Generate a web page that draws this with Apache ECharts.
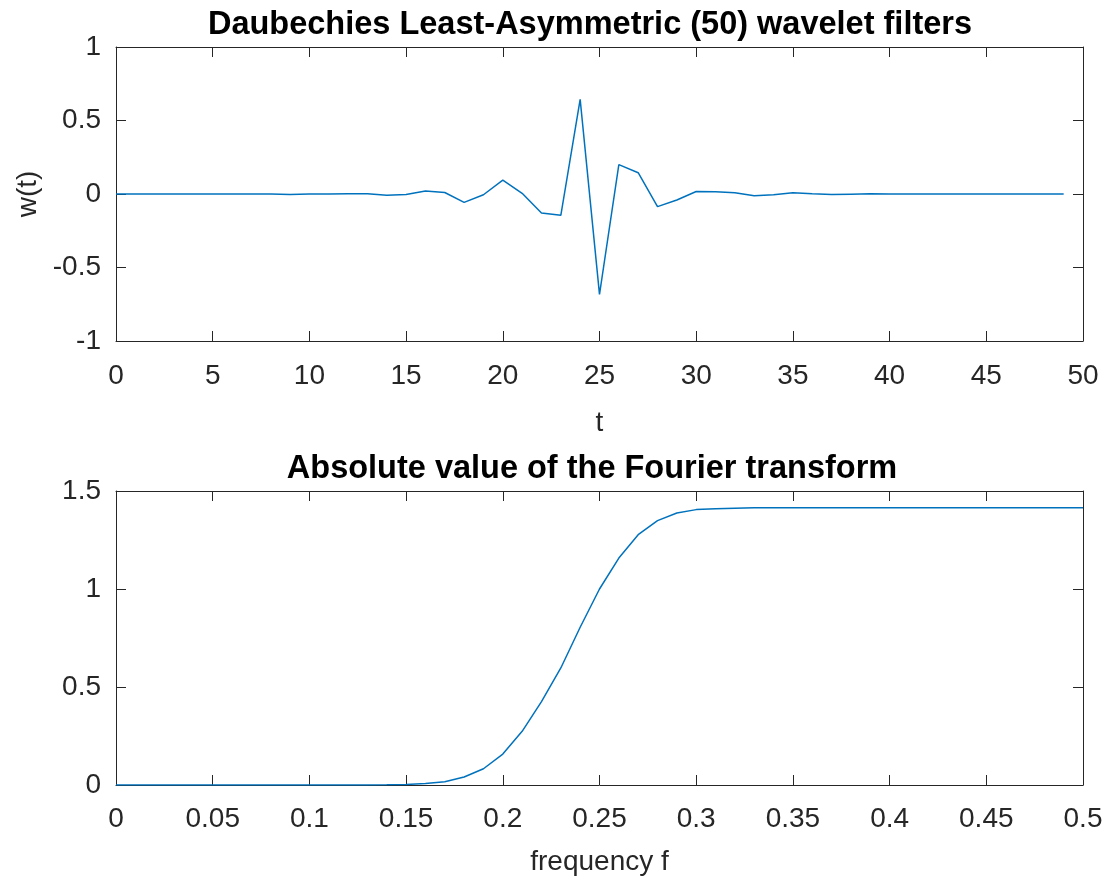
<!DOCTYPE html>
<html>
<head>
<meta charset="utf-8">
<script src="https://cdn.jsdelivr.net/npm/echarts@6/dist/echarts.min.js"></script>
<style>
  html, body { margin: 0; padding: 0; background: #fff; }
  #chart { width: 1107px; height: 882px; }
</style>
</head>
<body>
<div id="chart"></div>
<script>
// wavelet filter taps, t = 0..49
var tValues = [0, 1, 2, 3, 4, 5, 6, 7, 8, 9, 10, 11, 12, 13, 14, 15, 16, 17, 18, 19,
  20, 21, 22, 23, 24, 25, 26, 27, 28, 29, 30, 31, 32, 33, 34, 35, 36, 37, 38, 39,
  40, 41, 42, 43, 44, 45, 46, 47, 48, 49];
var wValues = [0, 0, 0, 0, 0, 0, 0, 0, 0, -0.003, 0, 0, 0.001, 0.001, -0.008, -0.003,
  0.02, 0.01, -0.057, -0.005, 0.095, 0.005, -0.129, -0.145, 0.644, -0.683, 0.2, 0.145,
  -0.086, -0.041, 0.017, 0.015, 0.009, -0.012, -0.005, 0.009, 0.002, -0.004, -0.001, 0.001,
  0, 0, 0, 0, 0, 0, 0, 0, 0, 0];

// |Fourier transform|, f = 0..0.5 step 0.01
var fValues = [0, 0.01, 0.02, 0.03, 0.04, 0.05, 0.06, 0.07, 0.08, 0.09, 0.1, 0.11, 0.12,
  0.13, 0.14, 0.15, 0.16, 0.17, 0.18, 0.19, 0.2, 0.21, 0.22, 0.23, 0.24, 0.25, 0.26, 0.27,
  0.28, 0.29, 0.3, 0.31, 0.32, 0.33, 0.34, 0.35, 0.36, 0.37, 0.38, 0.39, 0.4, 0.41, 0.42,
  0.43, 0.44, 0.45, 0.46, 0.47, 0.48, 0.49, 0.5];
var magValues = [0, 0, 0, 0, 0, 0, 0, 0, 0, 0, 0, 0, 0, 0, 0.001, 0.003, 0.008, 0.017,
  0.041, 0.083, 0.158, 0.274, 0.425, 0.597, 0.805, 1.0, 1.158, 1.277, 1.349, 1.388, 1.405,
  1.41, 1.412, 1.414, 1.414, 1.414, 1.414, 1.414, 1.414, 1.414, 1.414, 1.414, 1.414, 1.414,
  1.414, 1.414, 1.414, 1.414, 1.414, 1.414, 1.414];

var titles = ["Daubechies Least-Asymmetric (50) wavelet filters", "Absolute value of the Fourier transform"];

var font = '"Liberation Sans", Arial, Helvetica, sans-serif';
var axisColor = "#262626";
var lineColor = "#0072BD";
var tickFont = 28;
var titleFont = 32.5;

function pairs(xs, ys) {
  return xs.map(function (x, i) { return [x, ys[i]]; });
}

// bottom / left axis with labels
function mainAxis(extra, margin) {
  var a = {
    type: "value",
    axisLine: { show: true, onZero: false, lineStyle: { color: axisColor, width: 1 } },
    axisTick: { show: true, inside: true, length: 10, lineStyle: { color: axisColor } },
    axisLabel: { color: axisColor, fontSize: tickFont, fontFamily: font, margin: margin },
    splitLine: { show: false },
    nameTextStyle: { color: axisColor, fontSize: tickFont, fontFamily: font }
  };
  return Object.assign(a, extra);
}

// top / right axis, ticks only (box)
function mirrorAxis(extra) {
  var a = {
    type: "value",
    axisLine: { show: true, onZero: false, lineStyle: { color: axisColor, width: 1 } },
    axisTick: { show: true, inside: true, length: 10, lineStyle: { color: axisColor } },
    axisLabel: { show: false },
    splitLine: { show: false }
  };
  return Object.assign(a, extra);
}

var chart = echarts.init(document.getElementById("chart"));
chart.setOption({
  animation: false,
  backgroundColor: "#fff",
  title: [
    {
      text: titles[0], left: 585, top: 4, textAlign: "center",
      textStyle: { fontFamily: font, fontSize: titleFont, fontWeight: "bold", color: "#000" }
    },
    {
      text: titles[1], left: 587, top: 448, textAlign: "center",
      textStyle: { fontFamily: font, fontSize: titleFont, fontWeight: "bold", color: "#000" }
    }
  ],
  grid: [
    { left: 116, top: 47, width: 967, height: 294 },
    { left: 116, top: 491, width: 967, height: 294 }
  ],
  xAxis: [
    mainAxis({ gridIndex: 0, position: "bottom", min: 0, max: 50, interval: 5,
      name: "t", nameLocation: "middle", nameGap: 68 }, 21),
    mirrorAxis({ gridIndex: 0, position: "top", min: 0, max: 50, interval: 5 }),
    mainAxis({ gridIndex: 1, position: "bottom", min: 0, max: 0.5, interval: 0.05,
      name: "frequency f", nameLocation: "middle", nameGap: 63,
      axisLabel: { color: axisColor, fontSize: tickFont, fontFamily: font, margin: 20,
        formatter: function (v) { return String(+v.toFixed(2)); } } }, 20),
    mirrorAxis({ gridIndex: 1, position: "top", min: 0, max: 0.5, interval: 0.05 })
  ],
  yAxis: [
    mainAxis({ gridIndex: 0, position: "left", min: -1, max: 1, interval: 0.5,
      name: "w(t)", nameLocation: "middle", nameGap: 68 }, 15),
    mirrorAxis({ gridIndex: 0, position: "right", min: -1, max: 1, interval: 0.5 }),
    mainAxis({ gridIndex: 1, position: "left", min: 0, max: 1.5, interval: 0.5 }, 15),
    mirrorAxis({ gridIndex: 1, position: "right", min: 0, max: 1.5, interval: 0.5 })
  ],
  series: [
    {
      type: "line", xAxisIndex: 0, yAxisIndex: 0,
      data: pairs(tValues, wValues),
      symbol: "none", lineStyle: { color: lineColor, width: 1.5 }
    },
    {
      type: "line", xAxisIndex: 2, yAxisIndex: 2,
      data: pairs(fValues, magValues),
      symbol: "none", lineStyle: { color: lineColor, width: 1.5 }
    }
  ]
});
</script>
</body>
</html>
